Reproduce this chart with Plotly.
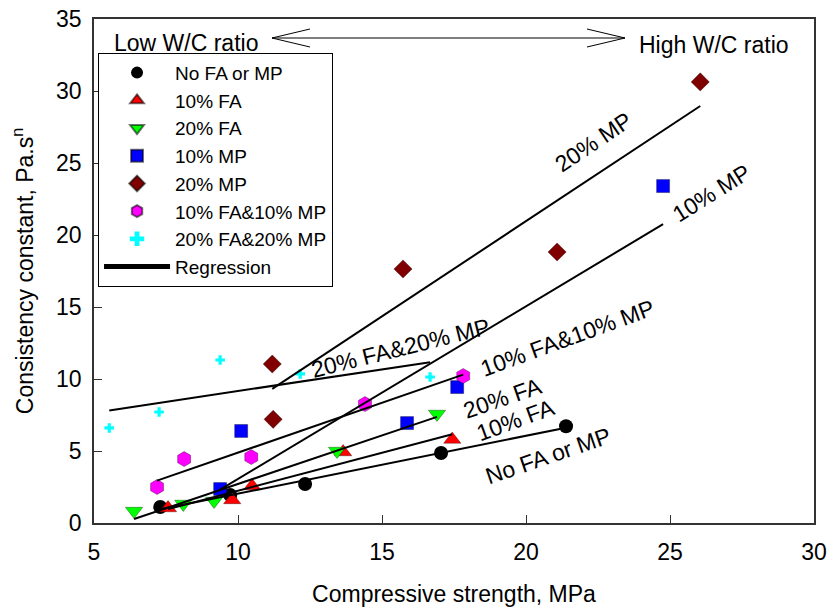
import numpy as np
import plotly.graph_objects as go

# Compressive strength (MPa) and consistency constant (Pa.s^n) per mix group
no_fa_mp_x = [7.30, 9.73, 12.33, 17.05, 21.39]
no_fa_mp_y = [1.11, 1.94, 2.71, 4.86, 6.72]

fa10_x = [7.57, 9.80, 10.49, 13.65, 17.44]
fa10_y = [1.04, 1.60, 2.57, 4.93, 5.80]

fa20_x = [6.39, 8.10, 9.17, 13.44, 16.91]
fa20_y = [0.83, 1.32, 1.53, 5.00, 7.57]

mp10_x = [9.38, 10.11, 15.87, 17.61, 24.76]
mp10_y = [2.36, 6.39, 6.94, 9.44, 23.40]

mp20_x = [11.19, 11.22, 15.73, 21.08, 26.05]
mp20_y = [11.04, 7.20, 17.64, 18.82, 30.63]

fa10mp10_x = [7.19, 8.13, 10.46, 14.41, 17.82]
fa10mp10_y = [2.50, 4.44, 4.58, 8.26, 10.21]

fa20mp20_x = [5.53, 7.26, 9.38, 12.16, 16.67]
fa20mp20_y = [6.60, 7.71, 11.32, 10.35, 10.14]

groups = [
    ("No FA or MP", no_fa_mp_x, no_fa_mp_y, "circle", "#000000", 14),
    ("10% FA", fa10_x, fa10_y, "triangle-up", "#FF0000", 15),
    ("20% FA", fa20_x, fa20_y, "triangle-down", "#00FF00", 15),
    ("10% MP", mp10_x, mp10_y, "square", "#0000FF", 13),
    ("20% MP", mp20_x, mp20_y, "diamond", "#800000", 14),
    ("10% FA&10% MP", fa10mp10_x, fa10mp10_y, "hexagon", "#FF00FF", 15),
    ("20% FA&20% MP", fa20mp20_x, fa20mp20_y, "cross", "#00FFFF", 8),
]

# Line labels: text, x, y, angle
line_labels = [
    ("No FA or MP", 20.75, 4.65, -19),
    ("10% FA", 19.65, 7.15, -20),
    ("20% FA", 19.20, 8.68, -19),
    ("10% FA&10% MP", 21.45, 12.85, -20),
    ("20% FA&20% MP", 15.65, 12.15, -14),
    ("20% MP", 22.35, 26.46, -34),
    ("10% MP", 26.45, 22.92, -32),
]

FONT = "Liberation Sans, Arial, sans-serif"
TXT = 23

fig = go.Figure()

for i, (name, xs, ys, sym, col, size) in enumerate(groups):
    outlined = sym not in ("circle", "cross")
    fig.add_trace(go.Scatter(
        x=xs, y=ys, mode="markers", name=name,
        legendgroup=name, legendrank=i + 1,
        marker=dict(symbol=sym, color=col, size=size,
                    line=dict(width=0.6 if outlined else 0,
                              color="rgba(0,0,0,0.55)" if outlined else col)),
    ))

# Least-squares regression line for each group, spanning its strength range
for i, (name, xs, ys, sym, col, size) in enumerate(groups):
    xs_a = np.array(xs)
    ys_a = np.array(ys)
    k, b = np.polyfit(xs_a, ys_a, 1)
    xr = np.array([xs_a.min(), xs_a.max()])
    fig.add_trace(go.Scatter(
        x=xr, y=k * xr + b, mode="lines", name="Regression",
        legendgroup="Regression", legendrank=20,
        showlegend=(i == 0),
        line=dict(color="black", width=2),
    ))

annotations = []
for text, x, y, ang in line_labels:
    annotations.append(dict(
        x=x, y=y, xref="x", yref="y", text=text, showarrow=False,
        textangle=ang, font=dict(family=FONT, size=TXT, color="black"),
    ))

annotations += [
    dict(x=0.025, y=0.953, xref="paper", yref="paper", text="Low W/C ratio",
         showarrow=False, xanchor="left", yanchor="middle",
         font=dict(family=FONT, size=TXT, color="black")),
    dict(x=0.968, y=0.948, xref="paper", yref="paper", text="High W/C ratio",
         showarrow=False, xanchor="right", yanchor="middle",
         font=dict(family=FONT, size=TXT, color="black")),
]

# Double-headed open arrow between the two ratio labels
def px_x(p):
    return (p - 94) / 720.0

def px_y(p):
    return (523 - p) / 504.0

arrow = dict(type="line", xref="paper", yref="paper",
             line=dict(color="black", width=1))
shapes = [
    dict(arrow, x0=px_x(272), y0=px_y(38), x1=px_x(625), y1=px_y(38)),
    dict(arrow, x0=px_x(272), y0=px_y(38), x1=px_x(310), y1=px_y(29)),
    dict(arrow, x0=px_x(272), y0=px_y(38), x1=px_x(310), y1=px_y(47)),
    dict(arrow, x0=px_x(625), y0=px_y(38), x1=px_x(587), y1=px_y(29)),
    dict(arrow, x0=px_x(625), y0=px_y(38), x1=px_x(587), y1=px_y(47)),
]

axis_common = dict(
    showgrid=False, zeroline=False, showline=True, linecolor="#333333",
    linewidth=1.5, mirror=True, ticks="inside", ticklen=8, tickwidth=1.2,
    tickcolor="#333333", tickfont=dict(family=FONT, size=TXT, color="black"),
    automargin=False,
)

fig.update_layout(
    width=827, height=609,
    margin=dict(l=94, r=13, t=19, b=86),
    paper_bgcolor="white", plot_bgcolor="white",
    font=dict(family=FONT, color="black"),
    xaxis=dict(axis_common, range=[5, 30], tick0=5, dtick=5,
               ticklabelstandoff=8,
               title=dict(text="Compressive strength, MPa",
                          font=dict(family=FONT, size=TXT), standoff=22)),
    yaxis=dict(axis_common, range=[0, 35], tick0=0, dtick=5,
               ticklabelstandoff=6,
               title=dict(text="Consistency constant, Pa.s<sup>n</sup>",
                          font=dict(family=FONT, size=TXT), standoff=16)),
    legend=dict(x=0.0056, y=0.933, xanchor="left", yanchor="top",
                bgcolor="white", bordercolor="black", borderwidth=1,
                font=dict(family=FONT, size=19, color="black"),
                itemsizing="constant", itemwidth=66, tracegroupgap=0),
    annotations=annotations,
    shapes=shapes,
    showlegend=True,
)

fig.write_html("out.html")
